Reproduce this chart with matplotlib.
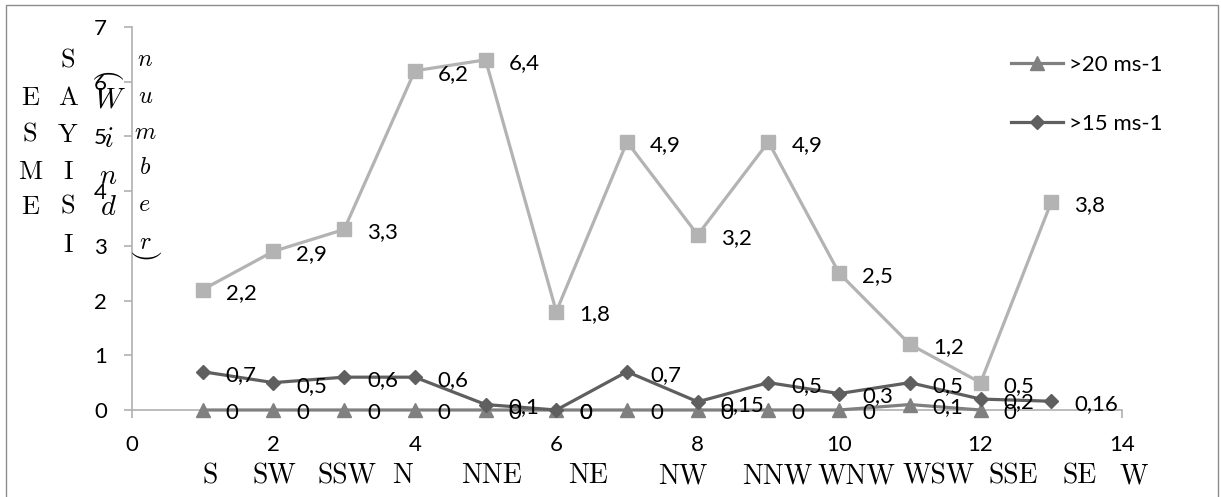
import matplotlib
matplotlib.use("Agg")
import matplotlib.pyplot as plt
from matplotlib.patches import Rectangle

# ---- data ----
x_sq = [1, 2, 3, 4, 5, 6, 7, 8, 9, 10, 11, 12, 13]
sq_vals = [2.2, 2.9, 3.3, 6.2, 6.4, 1.8, 4.9, 3.2, 4.9, 2.5, 1.2, 0.5, 3.8]
x_15 = [1, 2, 3, 4, 5, 6, 7, 8, 9, 10, 11, 12, 13]
gt15_vals = [0.7, 0.5, 0.6, 0.6, 0.1, 0, 0.7, 0.15, 0.5, 0.3, 0.5, 0.2, 0.16]
x_20 = [1, 2, 3, 4, 5, 6, 7, 8, 9, 10, 11, 12]
gt20_vals = [0, 0, 0, 0, 0, 0, 0, 0, 0, 0, 0.1, 0]
series_names = [">20 ms-1", ">15 ms-1"]
direction_labels = ["S", "SW", "SSW", "N", "NNE", "NE", "NW", "NNW",
                    "WNW", "WSW", "SSE", "SE", "W"]
x_ticks = [0, 2, 4, 6, 8, 10, 12, 14]
y_ticks = [0, 1, 2, 3, 4, 5, 6, 7]

# ---- layout (pixel based) ----
W, H = 1221, 497
dir_label_x = [1.10, 2.02, 3.04, 3.83, 5.09, 6.45, 7.79, 9.12,
               10.25, 11.4, 12.46, 13.4, 14.16]

fig = plt.figure(figsize=(W / 100, H / 100), dpi=100)
ax = fig.add_axes([132 / W, 1 - 410 / H, 990 / W, 383 / H])

SANS = "Lato"
FS = 16

c_sq = "#b3b3b3"
c_15 = "#5f5f5f"
c_20 = "#808080"

ax.plot(x_sq, sq_vals, color=c_sq, lw=2.3, marker="s", ms=9.5,
        mec=c_sq, mfc=c_sq, zorder=3, clip_on=False)
l20, = ax.plot(x_20, gt20_vals, color=c_20, lw=2.3, marker="^", ms=9.5,
               mec=c_20, mfc=c_20, zorder=4, clip_on=False)
l15, = ax.plot(x_15, gt15_vals, color=c_15, lw=2.3, marker="D", ms=7.5,
               mec=c_15, mfc=c_15, zorder=5, clip_on=False)


def fmt(v):
    return f"{v:g}".replace(".", ",")


for xs, vs in ((x_sq, sq_vals), (x_20, gt20_vals), (x_15, gt15_vals)):
    for xv, yv in zip(xs, vs):
        ax.annotate(fmt(yv), (xv, yv), xytext=(23, -3),
                    textcoords="offset pixels", ha="left", va="center",
                    fontsize=FS, family=SANS, color="black", zorder=10,
                    annotation_clip=False)

ax.set_xlim(0, 14)
ax.set_ylim(0, 7)
ax.set_xticks(x_ticks)
ax.set_yticks(y_ticks)
ax.set_xticklabels([str(t) for t in x_ticks], family=SANS, fontsize=FS)
ax.set_yticklabels([str(t) for t in y_ticks], family=SANS, fontsize=FS)
for s in ("top", "right"):
    ax.spines[s].set_visible(False)
for s in ("left", "bottom"):
    ax.spines[s].set_color("#b0b0b0")
    ax.spines[s].set_linewidth(1.2)
ax.tick_params(axis="both", direction="out", length=6, width=1.2,
               color="#b0b0b0")
ax.tick_params(axis="x", pad=12)
ax.tick_params(axis="y", pad=12)
ax.patch.set_visible(False)

# legend
leg = fig.legend([l20, l15], series_names, loc="upper left",
                 bbox_to_anchor=(1002 / W, 1 - 46 / H), frameon=False,
                 prop={"family": SANS, "size": FS}, handlelength=2.35,
                 handletextpad=0.28, labelspacing=1.75, borderaxespad=0)

# direction labels under the axis
serif_up = "cmr10"
serif_it = "cmmi10"
for lab, xp in zip(direction_labels, dir_label_x):
    ax.text(xp, -(476 - 410) / 383, lab, transform=ax.get_xaxis_transform(),
            ha="center", va="center", family=serif_up, fontsize=20)


def px(x, y):
    return x / W, 1 - y / H


# left overlay text
col1 = ["E", "S", "M", "E"]
col1_y = [98, 135, 172, 207]
col2 = ["S", "A", "Y", "I", "S", "I"]
col2_y = [61, 98, 135, 172, 207, 245]
col3 = ["W", "i", "n", "d"]
col3_y = [100, 140, 177, 208]
col4 = ["n", "u", "m", "b", "e", "r"]
col4_y = [60, 97, 133, 168, 205, 243]

for ch, yy in zip(col1, col1_y):
    fig.text(*px(30, yy), ch, ha="center", va="center", family=serif_up,
             fontsize=19)
for ch, yy in zip(col2, col2_y):
    fig.text(*px(68, yy), ch, ha="center", va="center", family=serif_up,
             fontsize=19)
for ch, yy in zip(col3, col3_y):
    fig.text(*px(108, yy), ch, ha="center", va="center", family=serif_it,
             fontsize=20.5)
for ch, yy in zip(col4, col4_y):
    fig.text(*px(145, yy), ch, ha="center", va="center", family=serif_it,
             fontsize=17.5)
fig.text(*px(105, 77), "(", ha="center", va="center", family=serif_up,
         fontsize=21, rotation=-90)
fig.text(*px(144, 257), ")", ha="center", va="center", family=serif_up,
         fontsize=21, rotation=-90)

# outer border
fig.patches.append(Rectangle((6 / W, -0.05), 1212 / W, 1.05 - 5 / H,
                             transform=fig.transFigure, fill=False,
                             edgecolor="#8c8c8c", lw=1.0))

fig.savefig("out.png", dpi=100)
